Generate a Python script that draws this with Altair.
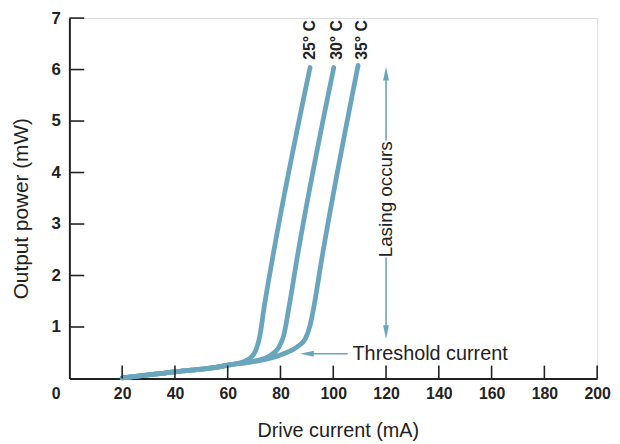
import altair as alt
import pandas as pd

# Curves (drive current mA, output power mW)
x25 = [20, 30, 40, 50, 56, 60, 63.7, 68.1, 70.6, 72.2, 73.7, 76.9, 91.2]
y25 = [0.01, 0.07, 0.13, 0.18, 0.22, 0.26, 0.29, 0.38, 0.54, 0.83, 1.35, 2.31, 6.04]
x30 = [20, 30, 40, 50, 56, 60, 64, 66.2, 71.2, 76.2, 79.4, 81.2, 83.1, 86.2, 100.2]
y30 = [0.01, 0.07, 0.13, 0.18, 0.22, 0.26, 0.29, 0.30, 0.35, 0.45, 0.61, 0.83, 1.35, 2.31, 6.04]
x35 = [20, 30, 40, 50, 56, 60, 64, 68.7, 75, 81.2, 86.2, 89.4, 91.2, 92.5, 95.6, 109.4]
y35 = [0.01, 0.07, 0.13, 0.18, 0.22, 0.26, 0.29, 0.32, 0.38, 0.48, 0.61, 0.77, 1.03, 1.35, 2.31, 6.08]

curve_names = ["25° C", "30° C", "35° C"]
label_x = [91.1, 101.6, 110.9]
label_y = [6.19, 6.19, 6.19]

x_ticks = [20, 40, 60, 80, 100, 120, 140, 160, 180, 200]
y_ticks = [1, 2, 3, 4, 5, 6, 7]

BLUE = "#6aa5be"
FONT = "Liberation Sans"

rows = []
for name, xs, ys in zip(curve_names, [x25, x30, x35], [y25, y30, y35]):
    for i, (a, b) in enumerate(zip(xs, ys)):
        rows.append({"temp": name, "i": i, "x": a, "y": b})
curves = pd.DataFrame(rows)
labels = pd.DataFrame({"t": curve_names, "x": label_x, "y": label_y})

xs = alt.Scale(domain=[0, 200], nice=False)
ys = alt.Scale(domain=[0, 7], nice=False)

base = alt.Chart(curves)

lines = base.mark_line(color=BLUE, strokeWidth=4.8, strokeCap="round",
                       interpolate="monotone").encode(
    x=alt.X("x:Q", scale=xs, axis=alt.Axis(
        values=x_ticks, format="d", ticks=False, grid=False, domainColor="#222", domainWidth=2,
        labelFont=FONT, labelFontSize=16, labelFontWeight="bold", labelColor="#222",
        labelPadding=7, labelFlush=False, labelOverlap=False,
        title="Drive current (mA)", titleFont=FONT, titleFontSize=20,
        titleFontWeight="normal", titleColor="#222", titleX=271, titleY=53,
        titleAlign="center", titleBaseline="middle")),
    y=alt.Y("y:Q", scale=ys, axis=alt.Axis(
        values=y_ticks, format="d", ticks=False, grid=False, domainColor="#222", domainWidth=2,
        labelFont=FONT, labelFontSize=17, labelFontWeight="bold", labelColor="#222",
        labelPadding=9, labelFlush=False, labelOverlap=False,
        title="Output power (mW)", titleFont=FONT, titleFontSize=21,
        titleFontWeight="normal", titleColor="#222", titleX=-48, titleY=192,
        titleAngle=270, titleAlign="center", titleBaseline="middle")),
    detail="temp:N",
    order="i:Q",
)

ytick_df = pd.DataFrame({"v": y_ticks})
xtick_df = pd.DataFrame({"v": x_ticks})
yticks = alt.Chart(ytick_df).mark_rule(color="#222", strokeWidth=1.6).encode(
    y=alt.Y("v:Q", scale=ys), x=alt.value(0), x2=alt.value(15))
xticks = alt.Chart(xtick_df).mark_rule(color="#222", strokeWidth=1.6).encode(
    x=alt.X("v:Q", scale=xs), y=alt.value(351), y2=alt.value(364))

curve_labels = alt.Chart(labels).mark_text(
    angle=270, align="left", baseline="middle", font=FONT, fontSize=16,
    fontWeight="bold", color="#222").encode(
    x=alt.X("x:Q", scale=xs), y=alt.Y("y:Q", scale=ys), text="t:N")

# Annotations
origin = alt.Chart(pd.DataFrame({"x": [-5], "y": [-0.31], "t": ["0"]})).mark_text(
    font=FONT, fontSize=16, fontWeight="bold", color="#222", baseline="middle").encode(
    x=alt.X("x:Q", scale=xs), y=alt.Y("y:Q", scale=ys), text="t:N")

seg_df = pd.DataFrame({"x": [120, 120, 90], "x2": [120, 120, 105.5],
                       "y": [5.92, 2.35, 0.48], "y2": [4.62, 0.90, 0.48]})
segs = alt.Chart(seg_df).mark_rule(color=BLUE, strokeWidth=1.6).encode(
    x=alt.X("x:Q", scale=xs), x2="x2:Q", y=alt.Y("y:Q", scale=ys), y2="y2:Q")

head_df = pd.DataFrame({"x": [120, 120, 90], "y": [5.92, 0.90, 0.48], "a": [0, 180, 270]})
heads = alt.Chart(head_df).mark_point(
    shape="M0,-1L0.42,1L-0.42,1Z", filled=True, color=BLUE, opacity=1, size=196).encode(
    x=alt.X("x:Q", scale=xs), y=alt.Y("y:Q", scale=ys), angle=alt.Angle("a:Q", scale=None))

ann_df = pd.DataFrame({"x": [107.3], "y": [0.48], "t": ["Threshold current"]})
thresh = alt.Chart(ann_df).mark_text(
    align="left", baseline="middle", font=FONT, fontSize=20, color="#222").encode(
    x=alt.X("x:Q", scale=xs), y=alt.Y("y:Q", scale=ys), text="t:N")

las_df = pd.DataFrame({"x": [120], "y": [3.48], "t": ["Lasing occurs"]})
lasing = alt.Chart(las_df).mark_text(
    angle=270, align="center", baseline="middle", font=FONT, fontSize=19, color="#222").encode(
    x=alt.X("x:Q", scale=xs), y=alt.Y("y:Q", scale=ys), text="t:N")

chart = alt.layer(lines, yticks, xticks, curve_labels, origin, segs, heads, thresh, lasing).properties(
    width=533, height=364,
    padding={"left": 62, "top": 8, "right": 15, "bottom": 64},
    autosize=alt.AutoSizeParams(type="none"),
).configure_view(stroke=None).configure(background="white")

chart.save("out.html", embed_options={"renderer": "svg", "actions": False})
